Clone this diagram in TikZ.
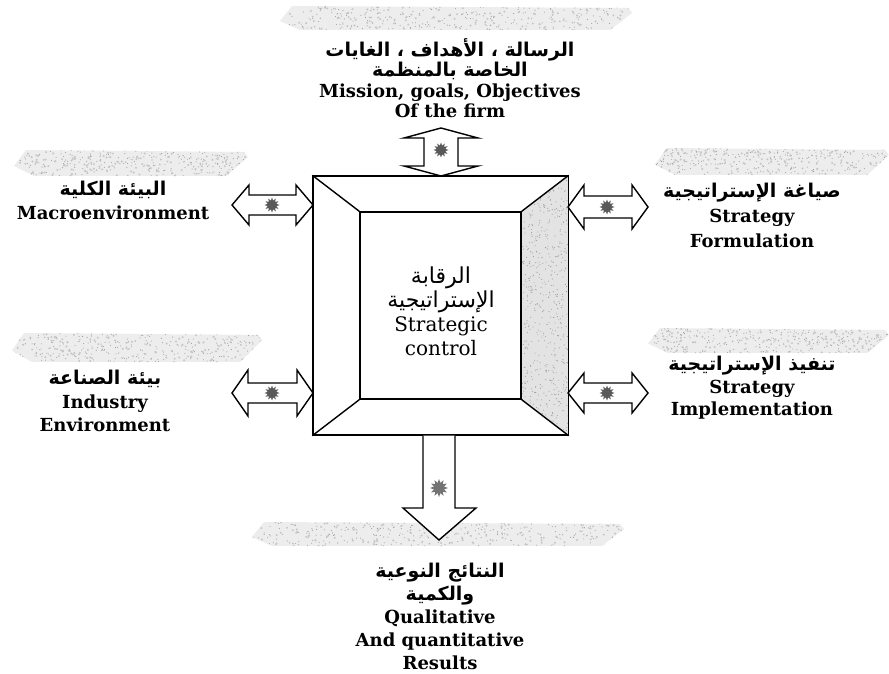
\documentclass[tikz,border=0pt]{standalone}
\usepackage{fontspec}
\setmainfont{DejaVu Serif}
\newfontfamily\arabicfont[Script=Arabic]{DejaVu Sans}
\TeXXeTstate=1
\usetikzlibrary{shapes.geometric}
% fixed line pitch inside the multi-line labels
\lineskiplimit=-30pt
\lineskip=0pt

% right-to-left Arabic runs
\newcommand\artxt[1]{{\arabicfont\fontsize{19}{19}\selectfont\beginR #1\endR}}
\newcommand\arctr[1]{{\arabicfont\fontsize{22}{22}\selectfont\beginR #1\endR}}

% horizontal double block arrow: xl xr y headlength headhalf shafthalf
\newcommand\hblockarrow[6]{%
  \draw[blockarrow] (#1,#3) -- ({#1+#4},{#3-#5}) -- ({#1+#4},{#3-#6}) -- ({#2-#4},{#3-#6})
    -- ({#2-#4},{#3-#5}) -- (#2,#3) -- ({#2-#4},{#3+#5}) -- ({#2-#4},{#3+#6})
    -- ({#1+#4},{#3+#6}) -- ({#1+#4},{#3+#5}) -- cycle;}

% vertical double block arrow: x yt yb headlength headhalf shafthalf
\newcommand\vblockarrow[6]{%
  \draw[blockarrow] (#1,#2) -- ({#1+#5},{#2+#4}) -- ({#1+#6},{#2+#4}) -- ({#1+#6},{#3-#4})
    -- ({#1+#5},{#3-#4}) -- (#1,#3) -- ({#1-#5},{#3-#4}) -- ({#1-#6},{#3-#4})
    -- ({#1-#6},{#2+#4}) -- ({#1-#5},{#2+#4}) -- cycle;}

% grainy grey band above each label
\newcommand\grainband[4]{%
  \begin{scope}
    \clip (#1,{(#2+#4)/2+3}) -- ({#1+12},#2) -- ({#3-4},{#2+2}) -- (#3,{#2+7})
      -- ({#3-22},#4) -- ({#1+20},#4) -- cycle;
    \fill[gray!14] (#1,#2) rectangle (#3,#4);
    \foreach \k in {1,...,280}{\fill[gray!75] ({#1+rnd*(#3-#1)},{#2+rnd*(#4-#2)}) circle (0.55);}
    \foreach \k in {1,...,120}{\fill[gray!45] ({#1+rnd*(#3-#1)},{#2+rnd*(#4-#2)}) circle (1.1);}
  \end{scope}}

\tikzset{
  blockarrow/.style={draw=black, line width=1.4pt, fill=white, line join=miter},
  lbl/.style={align=center, inner sep=0pt, font=\fontsize{18}{#1}\selectfont\bfseries},
  lbl/.default=23,
  ctrtxt/.style={align=center, inner sep=0pt, font=\fontsize{20}{24}\selectfont},
  blot/.style={star, star points=12, star point ratio=1.7, fill=black!65, draw=none,
    minimum size=15pt, inner sep=0pt},
  frame/.style={draw=black, line width=1.4pt, inner sep=0pt}
}

\begin{document}
\begin{tikzpicture}[x=1pt,y=-1pt]
\useasboundingbox (0,0) rectangle (889,674);
\fill[white] (0,0) rectangle (889,674);
\pgfmathsetseed{17}

% grey bands
\grainband{280}{6}{632}{30}
\grainband{14}{150}{248}{176}
\grainband{655}{148}{889}{175}
\grainband{12}{333}{262}{362}
\grainband{648}{328}{889}{353}
\grainband{252}{522}{624}{546}

% central bevelled frame
\node[frame, minimum width=255pt, minimum height=259pt] (ctrl) at (440.5,305.5) {};
\node[frame, minimum width=161pt, minimum height=187pt] (ctrlin) at (440.5,305.5) {};
\begin{scope}
  \clip (ctrlin.north east) -- (ctrl.north east) -- (ctrl.south east) -- (ctrlin.south east) -- cycle;
  \fill[gray!22] (521,176) rectangle (568,435);
  \foreach \k in {1,...,600}{\fill[gray!75] ({521+rnd*47},{176+rnd*259}) circle (0.55);}
\end{scope}
\draw[line width=1.4pt] (ctrl.north west) rectangle (ctrl.south east);
\draw[line width=1.4pt] (ctrlin.north west) rectangle (ctrlin.south east);
\draw[line width=1.4pt] (ctrl.north west) -- (ctrlin.north west)
  (ctrl.north east) -- (ctrlin.north east)
  (ctrl.south west) -- (ctrlin.south west)
  (ctrl.south east) -- (ctrlin.south east);

\node[ctrtxt] (ctrltxt) at (441,311) {\arctr{الرقابة}\\ \arctr{الإستراتيجية}\\ Strategic\\ control};

% block arrows to the frame
\vblockarrow{441}{128}{176}{10}{37}{17}
\hblockarrow{232}{313}{205}{17}{20}{10}
\hblockarrow{568}{648}{207}{16}{22}{11}
\hblockarrow{232}{313}{393}{16}{23}{10}
\hblockarrow{568}{648}{393}{16}{20}{10}
\draw[blockarrow] (ctrl.south -| 423,0) -- (423,508) -- (403,508) -- (439,540) -- (476,508)
  -- (455,508) -- (ctrl.south -| 455,0);

% dark blots inside the arrows
\node[blot] (b1) at (441,150) {};
\node[blot] (b2) at (272,205) {};
\node[blot] (b3) at (607,207) {};
\node[blot] (b4) at (272,393) {};
\node[blot] (b5) at (607,393) {};
\node[blot, fill=black!55, minimum size=18pt] (b6) at (439,488) {};

% labels
\node[lbl=20.5] (mission) at (450,78) {\artxt{الرسالة ، الأهداف ، الغايات}\\ \artxt{الخاصة بالمنظمة}\\ Mission, goals, Objectives\\ Of the firm};
\node[lbl=24] (macro) at (113,200) {\artxt{البيئة الكلية}\\ Macroenvironment};
\node[lbl=25] (formul) at (752,215) {\artxt{صياغة الإستراتيجية}\\ Strategy\\ Formulation};
\node[lbl=23.5] (industry) at (105,401) {\artxt{بيئة الصناعة}\\ Industry\\ Environment};
\node[lbl=22.5] (implem) at (752,388) {\artxt{تنفيذ الإستراتيجية}\\ Strategy\\ Implementation};
\node[lbl=23] (results) at (440,616) {\artxt{النتائج النوعية}\\ \artxt{والكمية}\\ Qualitative\\ And quantitative\\ Results};
\end{tikzpicture}
\end{document}
